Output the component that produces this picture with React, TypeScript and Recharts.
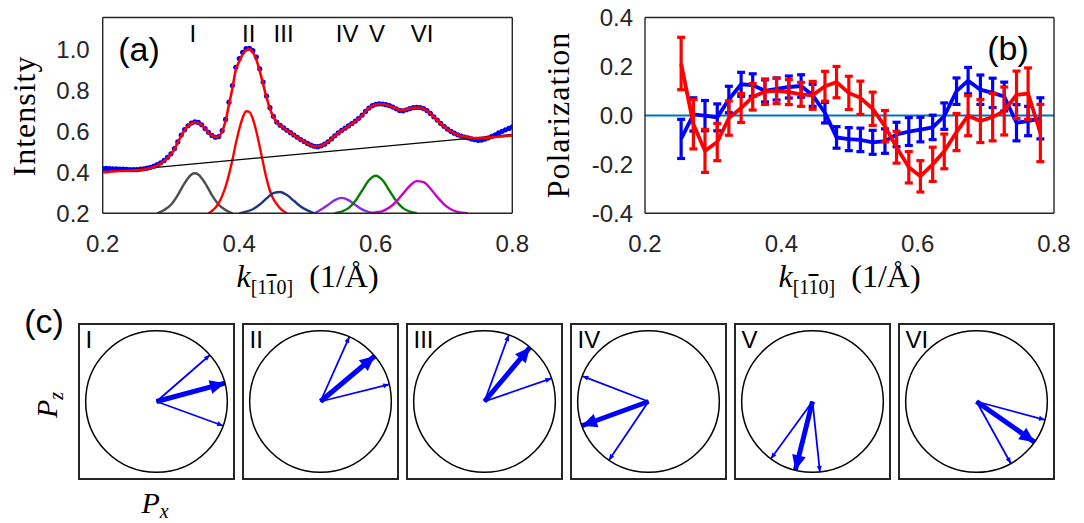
import React from "react";
import { ComposedChart, LineChart, Line, XAxis, YAxis, ReferenceLine, ReferenceDot, ErrorBar } from "recharts";

// ---- panel (a): intensity profile ----
const kA = [
  0.2, 0.205, 0.21, 0.215, 0.22, 0.225, 0.23, 0.235, 0.24, 0.245,
  0.25, 0.255, 0.26, 0.265, 0.27, 0.275, 0.28, 0.285, 0.29, 0.295,
  0.3, 0.305, 0.31, 0.315, 0.32, 0.325, 0.33, 0.335, 0.34, 0.345,
  0.35, 0.355, 0.36, 0.365, 0.37, 0.375, 0.38, 0.385, 0.39, 0.395,
  0.4, 0.405, 0.41, 0.415, 0.42, 0.425, 0.43, 0.435, 0.44, 0.445,
  0.45, 0.455, 0.46, 0.465, 0.47, 0.475, 0.48, 0.485, 0.49, 0.495,
  0.5, 0.505, 0.51, 0.515, 0.52, 0.525, 0.53, 0.535, 0.54, 0.545,
  0.55, 0.555, 0.56, 0.565, 0.57, 0.575, 0.58, 0.585, 0.59, 0.595,
  0.6, 0.605, 0.61, 0.615, 0.62, 0.625, 0.63, 0.635, 0.64, 0.645,
  0.65, 0.655, 0.66, 0.665, 0.67, 0.675, 0.68, 0.685, 0.69, 0.695,
  0.7, 0.705, 0.71, 0.715, 0.72, 0.725, 0.73, 0.735, 0.74, 0.745,
  0.75, 0.755, 0.76, 0.765, 0.77, 0.775, 0.78, 0.785, 0.79, 0.795,
  0.8,
];
const measured = [
  0.418, 0.419, 0.418, 0.417, 0.417, 0.416, 0.415, 0.414, 0.413, 0.413,
  0.413, 0.415, 0.417, 0.42, 0.424, 0.43, 0.437, 0.446, 0.458, 0.473,
  0.49, 0.515, 0.548, 0.582, 0.608, 0.627, 0.64, 0.646, 0.643, 0.632,
  0.613, 0.595, 0.58, 0.571, 0.574, 0.603, 0.658, 0.742, 0.823, 0.912,
  0.955, 0.985, 1.003, 1.005, 0.993, 0.962, 0.905, 0.84, 0.772, 0.715,
  0.673, 0.645, 0.629, 0.617, 0.605, 0.593, 0.582, 0.571, 0.56, 0.55,
  0.541, 0.533, 0.527, 0.525, 0.529, 0.537, 0.549, 0.563, 0.578, 0.592,
  0.604, 0.615, 0.626, 0.638, 0.65, 0.663, 0.679, 0.697, 0.713, 0.725,
  0.732, 0.734, 0.733, 0.73, 0.725, 0.718, 0.71, 0.702, 0.7, 0.705,
  0.711, 0.715, 0.717, 0.716, 0.711, 0.701, 0.687, 0.671, 0.655, 0.639,
  0.624, 0.611, 0.6, 0.591, 0.583, 0.577, 0.572, 0.568, 0.563, 0.559,
  0.556, 0.557, 0.562, 0.568, 0.575, 0.583, 0.592, 0.6, 0.607, 0.614,
  0.622,
];
const fitted = [
  0.4, 0.401, 0.403, 0.404, 0.405, 0.406, 0.407, 0.407, 0.408, 0.409,
  0.41, 0.412, 0.414, 0.417, 0.421, 0.426, 0.433, 0.442, 0.455, 0.47,
  0.488, 0.513, 0.545, 0.578, 0.605, 0.625, 0.638, 0.644, 0.641, 0.63,
  0.612, 0.594, 0.58, 0.572, 0.575, 0.6, 0.65, 0.73, 0.81, 0.9,
  0.94, 0.975, 0.995, 1.0, 0.985, 0.95, 0.895, 0.83, 0.765, 0.71,
  0.67, 0.643, 0.628, 0.616, 0.604, 0.592, 0.581, 0.57, 0.559, 0.549,
  0.54, 0.532, 0.527, 0.526, 0.53, 0.538, 0.549, 0.562, 0.577, 0.591,
  0.603, 0.614, 0.625, 0.637, 0.649, 0.662, 0.678, 0.696, 0.712, 0.724,
  0.731, 0.733, 0.732, 0.729, 0.724, 0.717, 0.71, 0.704, 0.703, 0.707,
  0.712, 0.715, 0.716, 0.715, 0.71, 0.7, 0.686, 0.67, 0.654, 0.638,
  0.623, 0.61, 0.599, 0.59, 0.583, 0.577, 0.573, 0.57, 0.568, 0.567,
  0.567, 0.567, 0.568, 0.569, 0.571, 0.572, 0.574, 0.575, 0.577, 0.578,
  0.58,
];
const bgK = [0.2, 0.8];
const bgV = [0.4, 0.585];

const kI = [0.28, 0.29, 0.3, 0.31, 0.32, 0.33, 0.335, 0.34, 0.35, 0.36, 0.37, 0.38, 0.39];
const vI = [0.2, 0.216, 0.242, 0.289, 0.347, 0.389, 0.395, 0.389, 0.347, 0.289, 0.242, 0.216, 0.2];
const kII = [
  0.355, 0.36, 0.365, 0.37, 0.375, 0.38, 0.385, 0.39, 0.395, 0.4, 0.405, 0.41,
  0.415, 0.42, 0.425, 0.43, 0.435, 0.44, 0.445, 0.45, 0.455, 0.46, 0.465, 0.47,
];
const vII = [
  0.2, 0.212, 0.227, 0.25, 0.285, 0.33, 0.39, 0.46, 0.54, 0.61, 0.665, 0.698,
  0.694, 0.66, 0.6, 0.525, 0.445, 0.37, 0.31, 0.27, 0.245, 0.224, 0.21, 0.2,
];
const kIII = [0.4, 0.41, 0.42, 0.43, 0.44, 0.45, 0.46, 0.47, 0.48, 0.49, 0.5, 0.51];
const vIII = [0.2, 0.208, 0.22, 0.243, 0.273, 0.298, 0.304, 0.289, 0.261, 0.233, 0.214, 0.2];
const kIV = [0.51, 0.52, 0.53, 0.54, 0.55, 0.56, 0.57, 0.58, 0.59, 0.6];
const vIV = [0.2, 0.219, 0.241, 0.264, 0.275, 0.264, 0.241, 0.219, 0.206, 0.2];
const kV = [0.54, 0.55, 0.56, 0.57, 0.58, 0.59, 0.6, 0.61, 0.62, 0.63, 0.64, 0.65, 0.66];
const vV = [0.2, 0.208, 0.225, 0.26, 0.311, 0.361, 0.383, 0.361, 0.311, 0.26, 0.225, 0.208, 0.2];
const kVI = [0.595, 0.6, 0.61, 0.62, 0.63, 0.64, 0.65, 0.66, 0.67, 0.68, 0.69, 0.7, 0.71, 0.72, 0.73, 0.735];
const vVI = [0.2, 0.204, 0.211, 0.228, 0.257, 0.296, 0.335, 0.357, 0.352, 0.321, 0.28, 0.244, 0.22, 0.207, 0.202, 0.2];

const peakNames = ["I", "II", "III", "IV", "V", "VI"];
const peakK = [0.332, 0.414, 0.465, 0.558, 0.602, 0.668];
const peakColors = ["#4d4d4d", "#ff0000", "#1f3a78", "#8a2be2", "#008000", "#cc00cc"];

const xTicks = [0.2, 0.4, 0.6, 0.8];
const yTicksA = [0.2, 0.4, 0.6, 0.8, 1.0];

// ---- panel (b): polarization ----
const kB = [
  0.253, 0.271, 0.288, 0.306, 0.323, 0.341, 0.358, 0.376, 0.393, 0.411,
  0.429, 0.446, 0.464, 0.481, 0.499, 0.516, 0.534, 0.552, 0.569, 0.587,
  0.604, 0.622, 0.639, 0.657, 0.674, 0.692, 0.71, 0.727, 0.745, 0.762, 0.78,
];
const bluePol = [
  -0.096, 0.004, -0.001, -0.008, 0.065, 0.127, 0.124, 0.1, 0.108, 0.116,
  0.12, 0.082, 0.011, -0.09, -0.097, -0.1, -0.11, -0.105, -0.078, -0.066,
  -0.058, -0.049, -0.003, 0.099, 0.142, 0.105, 0.092, 0.077, -0.03, -0.023, -0.012,
];
const blueErr = [
  0.08, 0.068, 0.062, 0.055, 0.054, 0.049, 0.046, 0.045, 0.045, 0.045,
  0.046, 0.045, 0.042, 0.044, 0.047, 0.048, 0.049, 0.05, 0.05, 0.057,
  0.05, 0.05, 0.054, 0.054, 0.054, 0.06, 0.06, 0.059, 0.074, 0.06, 0.084,
];
const redPol = [
  0.212, -0.036, -0.145, -0.109, -0.011, 0.03, 0.076, 0.097, 0.1, 0.095,
  0.086, 0.082, 0.119, 0.136, 0.092, 0.072, 0.027, -0.044, -0.13, -0.212,
  -0.249, -0.2, -0.147, -0.068, -0.001, -0.023, -0.007, 0.018, 0.084, 0.089, -0.072,
];
const redErr = [
  0.107, 0.101, 0.088, 0.076, 0.07, 0.059, 0.054, 0.052, 0.052, 0.051,
  0.049, 0.057, 0.061, 0.064, 0.068, 0.068, 0.068, 0.064, 0.065, 0.064,
  0.064, 0.07, 0.071, 0.076, 0.082, 0.088, 0.097, 0.098, 0.097, 0.105, 0.117,
];
const yTicksB = [-0.4, -0.2, 0, 0.2, 0.4];

// ---- panel (c): spin directions (degrees in Px-Pz plane) ----
const mainAngle = [15, 40, 50, 200, 256, -35];
const upperAngle = [41, 66, 70, 159, 234, -15];
const lowerAngle = [-20, 14, 19, 236, 276, -61];

const SANS = '"Liberation Sans", Arial, sans-serif';
const SERIF = '"Liberation Serif", "Times New Roman", serif';
const AX = "#262626";

const rows = (ks: number[], vs: number[]) => ks.map((k, i) => ({ k, v: vs[i] }));
const f1 = (v: number) => v.toFixed(1);
const tickStyle = { fill: AX, fontSize: 24, fontFamily: SANS };
const lineSt = { stroke: AX, strokeWidth: 1.4 };

function frameAxes(dom: [number, number], ticks: number[], ydom: [number, number], yticks: number[], yMargin: number) {
  return [
    <XAxis key="x" xAxisId="x" dataKey="k" type="number" domain={dom} ticks={ticks} interval={0} allowDataOverflow
      tickFormatter={f1} tickSize={0} tickMargin={22} axisLine={false} tickLine={false} tick={tickStyle} height={30} />,
    <XAxis key="xb" xAxisId="xb" type="number" domain={dom} ticks={ticks} interval={0} allowDataOverflow mirror
      tick={false} tickSize={4} axisLine={lineSt} tickLine={lineSt} />,
    <XAxis key="xt" xAxisId="xt" orientation="top" type="number" domain={dom} ticks={ticks} interval={0} allowDataOverflow mirror
      tick={false} tickSize={4} axisLine={lineSt} tickLine={lineSt} />,
    <YAxis key="y" yAxisId="y" type="number" domain={ydom} ticks={yticks} interval={0} allowDataOverflow
      tickFormatter={f1} tickSize={0} tickMargin={yMargin} axisLine={false} tickLine={false} tick={tickStyle} width={50} />,
    <YAxis key="yl" yAxisId="yl" type="number" domain={ydom} ticks={yticks} interval={0} allowDataOverflow mirror
      tick={false} tickSize={4} axisLine={lineSt} tickLine={lineSt} />,
    <YAxis key="yr" yAxisId="yr" orientation="right" type="number" domain={ydom} ticks={yticks} interval={0} allowDataOverflow mirror
      tick={false} tickSize={4} axisLine={lineSt} tickLine={lineSt} />,
  ];
}

// hidden axes for an overlay layer that shares the plot area of the framed chart
function hiddenAxes(dom: [number, number], ydom: [number, number]) {
  return [
    <XAxis key="x" xAxisId="x" dataKey="k" type="number" domain={dom} allowDataOverflow hide />,
    <YAxis key="y" yAxisId="y" type="number" domain={ydom} allowDataOverflow hide />,
  ];
}

const layer: React.CSSProperties = { position: "absolute", left: 0, top: 0 };

function PanelA() {
  const comps = [
    rows(kI, vI), rows(kII, vII), rows(kIII, vIII), rows(kIV, vIV), rows(kV, vV), rows(kVI, vVI),
  ];
  const dom: [number, number] = [0.2, 0.8];
  const ydom: [number, number] = [0.2, 1.155];
  return (
    <div style={{ position: "absolute", left: 0, top: 0, width: 530, height: 300 }}>
      <div style={layer}>
        <ComposedChart width={530} height={300} margin={{ top: 17.5, right: 17.7, bottom: 56.7, left: 52.7 }}>
          {frameAxes(dom, xTicks, ydom, yTicksA, 13)}
          {comps.map((d, i) => (
            <Line key={peakNames[i]} xAxisId="x" yAxisId="y" data={d} dataKey="v" type="monotone" stroke={peakColors[i]}
              strokeWidth={2.4} dot={false} isAnimationActive={false} />
          ))}
          <Line xAxisId="x" yAxisId="y" data={rows(kA, measured)} dataKey="v" stroke="none"
            dot={{ r: 2.6, fill: "#0000ff", stroke: "none" }} activeDot={false} isAnimationActive={false} />
          {peakNames.map((n, i) => (
            <ReferenceDot key={"l" + n} xAxisId="x" yAxisId="y" x={peakK[i]} y={1.076} r={0} stroke="none"
              label={{ value: n, fill: "#000", fontSize: 24, fontFamily: SANS }} />
          ))}
        </ComposedChart>
      </div>
      <div style={layer}>
        <ComposedChart width={530} height={300} margin={{ top: 17.5, right: 17.7, bottom: 86.7, left: 102.7 }}>
          {hiddenAxes(dom, ydom)}
          <Line xAxisId="x" yAxisId="y" data={rows(bgK, bgV)} dataKey="v" type="linear" stroke="#000" strokeWidth={1.2}
            dot={false} isAnimationActive={false} />
          <Line xAxisId="x" yAxisId="y" data={rows(kA, fitted)} dataKey="v" type="monotone" stroke="#ff0000" strokeWidth={2.6}
            dot={false} isAnimationActive={false} />
        </ComposedChart>
      </div>
    </div>
  );
}

function PanelB() {
  const blue = kB.map((k, i) => ({ k, v: bluePol[i], e: blueErr[i] }));
  const red = kB.map((k, i) => ({ k, v: redPol[i], e: redErr[i] }));
  const dom: [number, number] = [0.2, 0.8];
  const ydom: [number, number] = [-0.4, 0.4];
  return (
    <div className="pb" style={{ position: "absolute", left: 540, top: 0, width: 540, height: 300 }}>
      <div style={layer}>
        <ComposedChart width={540} height={300} margin={{ top: 17.5, right: 26, bottom: 56.7, left: 55 }}>
          {frameAxes(dom, xTicks, ydom, yTicksB, 12)}
          <ReferenceLine xAxisId="x" yAxisId="y" y={0} stroke="#0072bd" strokeWidth={2} />
          <Line xAxisId="x" yAxisId="y" data={blue} dataKey="v" type="linear" stroke="#0000ff" strokeWidth={3.8}
            dot={false} activeDot={false} isAnimationActive={false}>
            <ErrorBar dataKey="e" direction="y" width={4} strokeWidth={3.2} stroke="#0000ff" />
          </Line>
        </ComposedChart>
      </div>
      <div style={layer}>
        <ComposedChart width={540} height={300} margin={{ top: 17.5, right: 26, bottom: 86.7, left: 105 }}>
          {hiddenAxes(dom, ydom)}
          <Line xAxisId="x" yAxisId="y" data={red} dataKey="v" type="linear" stroke="#ff0000" strokeWidth={3.8}
            dot={false} activeDot={false} isAnimationActive={false}>
            <ErrorBar dataKey="e" direction="y" width={4} strokeWidth={3.2} stroke="#ff0000" />
          </Line>
        </ComposedChart>
      </div>
    </div>
  );
}

function arrowHead(len: number, half: number) {
  return (p: any) => {
    const { cx, cy, index, payload } = p;
    if (index !== 1) return <g key={"n" + index} />;
    const ux = payload.px;
    const uy = -payload.pz;
    const n = Math.hypot(ux, uy) || 1;
    const dx = ux / n;
    const dy = uy / n;
    const bx = cx - dx * len;
    const by = cy - dy * len;
    const pts = `${cx},${cy} ${bx - dy * half},${by + dx * half} ${bx + dy * half},${by - dx * half}`;
    return <polygon key="h" points={pts} fill="#0000ff" />;
  };
}

const vec = (deg: number) => [
  { px: 0, pz: 0 },
  { px: Math.cos((deg * Math.PI) / 180), pz: Math.sin((deg * Math.PI) / 180) },
];

const BOX = 153;
const DOM: [number, number] = [-1.08, 1.08];

function SpinBox({ i }: { i: number }) {
  return (
    <div style={{ position: "absolute", left: 77.5 + i * 164, top: 323, width: BOX, height: BOX, border: `2px solid ${AX}` }}>
      <LineChart width={BOX} height={BOX} margin={{ top: 0, right: 0, bottom: 0, left: 0 }}>
        <XAxis dataKey="px" type="number" domain={DOM} hide allowDataOverflow />
        <YAxis type="number" domain={DOM} hide allowDataOverflow />
        <ReferenceDot x={0} y={0} r={BOX / 2 / 1.08} fill="none" stroke="#000" strokeWidth={1.5} />
        <Line data={vec(upperAngle[i])} dataKey="pz" type="linear" stroke="#0000ff" strokeWidth={1.8}
          dot={arrowHead(6, 2.5)} activeDot={false} isAnimationActive={false} />
        <Line data={vec(lowerAngle[i])} dataKey="pz" type="linear" stroke="#0000ff" strokeWidth={1.8}
          dot={arrowHead(6, 2.5)} activeDot={false} isAnimationActive={false} />
        <Line data={vec(mainAngle[i])} dataKey="pz" type="linear" stroke="#0000ff" strokeWidth={5}
          dot={arrowHead(15, 7)} activeDot={false} isAnimationActive={false} />
      </LineChart>
      <div style={{ position: "absolute", left: 6, top: 3, fontFamily: SANS, fontSize: 24, lineHeight: "24px", color: "#000" }}>
        {peakNames[i]}
      </div>
    </div>
  );
}

const txt = (extra: React.CSSProperties): React.CSSProperties => ({
  position: "absolute", whiteSpace: "nowrap", color: "#000", lineHeight: 1, ...extra,
});

function KLabel({ cx }: { cx: number }) {
  return (
    <div style={txt({ left: cx, top: 260, transform: "translateX(-50%)", fontFamily: SERIF, fontSize: 32 })}>
      <span style={{ fontStyle: "italic" }}>k</span>
      <span style={{ fontSize: 20, position: "relative", top: 7 }}>
        [1<span style={{ textDecoration: "overline" }}>1</span>0]
      </span>
      <span>{"\u2002(1/\u00c5)"}</span>
    </div>
  );
}

const errCss =
  ".pb svg line:not(.recharts-cartesian-axis-line):not(.recharts-cartesian-axis-tick-line):not(.recharts-reference-line-line) { stroke-width: 3.2px !important; }";

export default function App() {
  return (
    <div style={{ position: "absolute", left: 0, top: 0, width: 1084, height: 523, background: "#fff", overflow: "hidden" }}>
      <style>{errCss}</style>
      <PanelA />
      <PanelB />
      {peakNames.map((_, i) => (
        <SpinBox key={i} i={i} />
      ))}
      <div style={txt({ left: 24, top: 116, transform: "translate(-50%,-50%) rotate(-90deg)", fontFamily: SERIF, fontSize: 32, letterSpacing: 1 })}>
        Intensity
      </div>
      <div style={txt({ left: 558, top: 115, transform: "translate(-50%,-50%) rotate(-90deg)", fontFamily: SERIF, fontSize: 32, letterSpacing: 1 })}>
        Polarization
      </div>
      <KLabel cx={307.5} />
      <KLabel cx={849.5} />
      <div style={txt({ left: 139, top: 49, transform: "translate(-50%,-50%)", fontFamily: SANS, fontSize: 34 })}>(a)</div>
      <div style={txt({ left: 1008, top: 48, transform: "translate(-50%,-50%)", fontFamily: SANS, fontSize: 34 })}>(b)</div>
      <div style={txt({ left: 44, top: 321, transform: "translate(-50%,-50%)", fontFamily: SANS, fontSize: 34 })}>(c)</div>
      <svg width={70} height={80} style={{ position: "absolute", left: 12, top: 360 }}>
        <text transform="translate(45,58) rotate(-90)" fontFamily={SERIF} fontSize={30} fontStyle="italic" fill="#000">
          P<tspan fontSize={20} dy={6}>z</tspan>
        </text>
      </svg>
      <div style={txt({ left: 155, top: 503, transform: "translate(-50%,-50%)", fontFamily: SERIF, fontSize: 30 })}>
        <span style={{ fontStyle: "italic" }}>P</span>
        <span style={{ fontStyle: "italic", fontSize: 20, position: "relative", top: 5 }}>x</span>
      </div>
    </div>
  );
}
